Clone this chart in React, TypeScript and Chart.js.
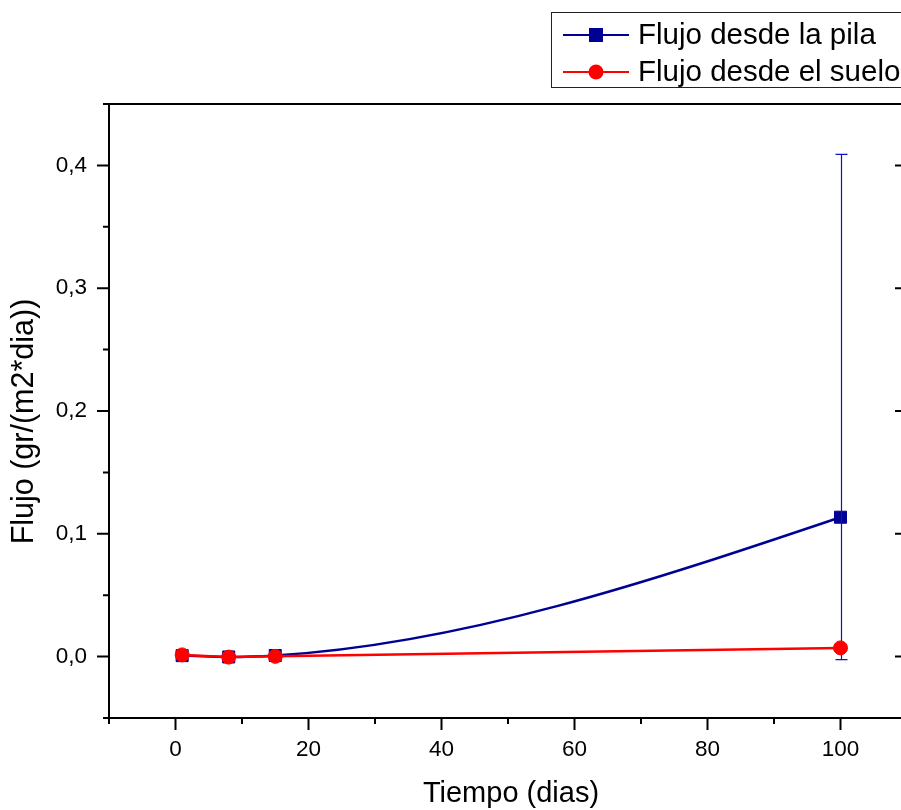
import { useEffect, useRef } from 'react';
import { Chart, registerables } from 'chart.js';

Chart.register(...registerables);

// ---- data ----
const dias = [1, 8, 15, 100];
const flujoPila = [0.0008, -0.0003, 0.0009, 0.1135];
const errPilaArriba = [0, 0, 0, 0.2955];
const errPilaAbajo = [0, 0, 0, 0.1159];
const flujoSuelo = [0.0014, -0.0004, 0.0002, 0.0071];

const xMajor = [0, 20, 40, 60, 80, 100];
const xMinor = [-10, 10, 30, 50, 70, 90, 110];
const yMajor = [0, 0.1, 0.2, 0.3, 0.4];
const yMinor = [-0.05, 0.05, 0.15, 0.25, 0.35, 0.45];

const nombrePila = 'Flujo desde la pila';
const nombreSuelo = 'Flujo desde el suelo';
const tituloX = 'Tiempo (dias)';
const tituloY = 'Flujo (gr/(m2*dia))';

const AZUL = '#000093';
const AZUL_ERR = '#1010c8';
const ROJO = '#ff0000';
const FONT = '"Liberation Sans", Arial, sans-serif';

function naturalSplineSlopes(xs: number[], ys: number[]): number[] {
  const n = xs.length;
  const h: number[] = [];
  for (let i = 0; i < n - 1; i++) h[i] = xs[i + 1] - xs[i];
  const m = n - 2;
  const a: number[] = [], b: number[] = [], c: number[] = [], d: number[] = [];
  for (let k = 0; k < m; k++) {
    const i = k + 1;
    a[k] = h[i - 1];
    b[k] = 2 * (h[i - 1] + h[i]);
    c[k] = h[i];
    d[k] = 6 * ((ys[i + 1] - ys[i]) / h[i] - (ys[i] - ys[i - 1]) / h[i - 1]);
  }
  for (let k = 1; k < m; k++) {
    const w = a[k] / b[k - 1];
    b[k] -= w * c[k - 1];
    d[k] -= w * d[k - 1];
  }
  const M = new Array(n).fill(0);
  for (let k = m - 1; k >= 0; k--) {
    M[k + 1] = (d[k] - (k < m - 1 ? c[k] * M[k + 2] : 0)) / b[k];
  }
  const s: number[] = [];
  for (let i = 0; i < n - 1; i++) {
    s[i] = (ys[i + 1] - ys[i]) / h[i] - (h[i] * (2 * M[i] + M[i + 1])) / 6;
  }
  s[n - 1] = (ys[n - 1] - ys[n - 2]) / h[n - 2] + (h[n - 2] * (M[n - 2] + 2 * M[n - 1])) / 6;
  return s;
}

const splinePlugin = {
  id: 'splinePila',
  beforeDatasetDraw(chart: any, args: any) {
    const ds = chart.data.datasets[args.index];
    if (!ds.naturalSpline) return;
    const meta = args.meta;
    meta.dataset.updateControlPoints(chart.chartArea, 'x');
    const xs = ds.data.map((p: any) => p.x);
    const ys = ds.data.map((p: any) => p.y);
    const s = naturalSplineSlopes(xs, ys);
    const xS = chart.scales.x, yS = chart.scales.y;
    const pts = meta.data;
    const n = xs.length;
    for (let i = 0; i < n; i++) {
      if (i > 0) {
        const h = xs[i] - xs[i - 1];
        pts[i].cp1x = xS.getPixelForValue(xs[i] - h / 3);
        pts[i].cp1y = yS.getPixelForValue(ys[i] - (h / 3) * s[i]);
      } else {
        pts[i].cp1x = pts[i].x; pts[i].cp1y = pts[i].y;
      }
      if (i < n - 1) {
        const h = xs[i + 1] - xs[i];
        pts[i].cp2x = xS.getPixelForValue(xs[i] + h / 3);
        pts[i].cp2y = yS.getPixelForValue(ys[i] + (h / 3) * s[i]);
      } else {
        pts[i].cp2x = pts[i].x; pts[i].cp2y = pts[i].y;
      }
    }
    meta.dataset._path = undefined;
  },
};

const errorBarPlugin = {
  id: 'errorBars',
  afterDatasetDraw(chart: any, args: any) {
    const ds = chart.data.datasets[args.index];
    if (!ds.errUp) return;
    const ctx = chart.ctx;
    const xS = chart.scales.x, yS = chart.scales.y;
    ctx.save();
    ctx.strokeStyle = ds.errColor;
    ctx.lineWidth = 1.2;
    ds.data.forEach((p: any, i: number) => {
      const up = ds.errUp[i], dn = ds.errDown[i];
      if (!up && !dn) return;
      const x = Math.round(xS.getPixelForValue(p.x)) + 0.5;
      const yt = yS.getPixelForValue(p.y + up);
      const yb = yS.getPixelForValue(p.y - dn);
      ctx.beginPath();
      ctx.moveTo(x, yt); ctx.lineTo(x, yb);
      ctx.moveTo(x - 6, yt); ctx.lineTo(x + 6, yt);
      ctx.moveTo(x - 6, yb); ctx.lineTo(x + 6, yb);
      ctx.stroke();
    });
    ctx.restore();
  },
};

const framePlugin = {
  id: 'frameAxes',
  afterDraw(chart: any) {
    const ctx = chart.ctx;
    const { left, right, top, bottom } = chart.chartArea;
    const xS = chart.scales.x, yS = chart.scales.y;
    ctx.save();
    ctx.strokeStyle = '#000';
    ctx.lineWidth = 2;
    ctx.lineCap = 'butt';
    ctx.beginPath();
    ctx.moveTo(left, top - 1); ctx.lineTo(left, bottom + 1);
    ctx.moveTo(left - 1, bottom); ctx.lineTo(right + 1, bottom);
    ctx.moveTo(left - 1, top); ctx.lineTo(right + 1, top);
    ctx.moveTo(right, top - 1); ctx.lineTo(right, bottom + 1);
    xMajor.forEach((v) => { const x = xS.getPixelForValue(v); ctx.moveTo(x, bottom); ctx.lineTo(x, bottom + 12); });
    xMinor.forEach((v) => { const x = xS.getPixelForValue(v); ctx.moveTo(x, bottom); ctx.lineTo(x, bottom + 6); });
    yMajor.forEach((v) => { const y = yS.getPixelForValue(v); ctx.moveTo(left, y); ctx.lineTo(left - 12, y); });
    yMinor.forEach((v) => { const y = yS.getPixelForValue(v); ctx.moveTo(left, y); ctx.lineTo(left - 6, y); });
    yMajor.forEach((v) => { const y = yS.getPixelForValue(v); ctx.moveTo(right, y); ctx.lineTo(right - 12, y); });
    yMinor.forEach((v) => { const y = yS.getPixelForValue(v); ctx.moveTo(right, y); ctx.lineTo(right - 6, y); });
    ctx.stroke();

    ctx.fillStyle = '#000';
    ctx.textAlign = 'center';
    ctx.textBaseline = 'alphabetic';
    ctx.font = `29px ${FONT}`;
    ctx.fillText(tituloX, 511, 802);
    ctx.translate(33, 421.5);
    ctx.rotate(-Math.PI / 2);
    ctx.font = `30.5px ${FONT}`;
    ctx.fillText(tituloY, 0, 0);
    ctx.restore();
  },
};

const legendPlugin = {
  id: 'customLegend',
  afterDraw(chart: any) {
    const ctx = chart.ctx;
    ctx.save();
    ctx.strokeStyle = '#222';
    ctx.lineWidth = 1;
    ctx.strokeRect(551.5, 12.5, 380, 75);
    const rows = [
      { name: nombrePila, color: AZUL, style: 'rect', y: 35 },
      { name: nombreSuelo, color: ROJO, style: 'circle', y: 72 },
    ];
    rows.forEach((r) => {
      ctx.strokeStyle = r.color;
      ctx.lineWidth = 2;
      ctx.beginPath();
      ctx.moveTo(563, r.y); ctx.lineTo(629, r.y);
      ctx.stroke();
      ctx.fillStyle = r.color;
      ctx.beginPath();
      if (r.style === 'rect') ctx.rect(596 - 7, r.y - 7, 14, 14);
      else ctx.arc(596, r.y, 7.5, 0, Math.PI * 2);
      ctx.fill();
      ctx.fillStyle = '#000';
      ctx.font = `29.5px ${FONT}`;
      ctx.textAlign = 'left';
      ctx.textBaseline = 'alphabetic';
      ctx.fillText(r.name, 638, r.y + 9);
    });
    ctx.restore();
  },
};

export default function App() {
  const ref = useRef<HTMLCanvasElement | null>(null);
  useEffect(() => {
    if (!ref.current) return;
    const chart = new Chart(ref.current, {
      type: 'line',
      data: {
        datasets: [
          {
            label: nombrePila,
            data: dias.map((d, i) => ({ x: d, y: flujoPila[i] })),
            borderColor: AZUL,
            backgroundColor: AZUL,
            borderWidth: 2.5,
            pointStyle: 'rect',
            pointRadius: 8.5,
            pointBorderWidth: 1,
            pointBorderColor: AZUL,
            pointBackgroundColor: AZUL,
            tension: 0.4,
            fill: false,
            order: 1,
            naturalSpline: true,
            errUp: errPilaArriba,
            errDown: errPilaAbajo,
            errColor: AZUL_ERR,
          } as any,
          {
            label: nombreSuelo,
            data: dias.map((d, i) => ({ x: d, y: flujoSuelo[i] })),
            borderColor: ROJO,
            backgroundColor: ROJO,
            borderWidth: 2.5,
            pointStyle: 'circle',
            pointRadius: 7,
            pointBorderWidth: 1,
            pointBorderColor: ROJO,
            pointBackgroundColor: ROJO,
            tension: 0,
            fill: false,
            order: 0,
          },
        ],
      },
      options: {
        animation: false,
        responsive: false,
        maintainAspectRatio: false,
        devicePixelRatio: 1,
        layout: { padding: { left: 0, top: 104, right: 33, bottom: 0 } },
        plugins: { legend: { display: false }, tooltip: { enabled: false }, title: { display: false } },
        scales: {
          x: {
            type: 'linear',
            min: -10,
            max: 110,
            grid: { display: false, drawTicks: false, tickLength: 0 },
            border: { display: false },
            afterBuildTicks: (s: any) => { s.ticks = xMajor.map((v) => ({ value: v })); },
            afterFit: (s: any) => { s.height = 92; },
            ticks: {
              padding: 18,
              color: '#000',
              font: { family: FONT, size: 22.5 },
              maxRotation: 0,
              autoSkip: false,
              callback: (v: any) => String(v),
            },
          },
          y: {
            type: 'linear',
            min: -0.05,
            max: 0.45,
            grid: { display: false, drawTicks: false, tickLength: 0 },
            border: { display: false },
            afterBuildTicks: (s: any) => { s.ticks = yMajor.map((v) => ({ value: v })); },
            afterFit: (s: any) => { s.width = 109; },
            ticks: {
              padding: 22,
              color: '#000',
              font: { family: FONT, size: 22.5 },
              autoSkip: false,
              callback: (v: any) => Number(v).toFixed(1).replace('.', ','),
            },
          },
        },
      },
      plugins: [splinePlugin, errorBarPlugin, framePlugin, legendPlugin],
    });
    return () => chart.destroy();
  }, []);
  return (
    <div style={{ position: 'absolute', left: 0, top: 0, width: 901, height: 810, overflow: 'hidden', background: '#fff' }}>
      <canvas ref={ref} width={940} height={810} style={{ display: 'block', width: 940, height: 810 }} />
    </div>
  );
}
